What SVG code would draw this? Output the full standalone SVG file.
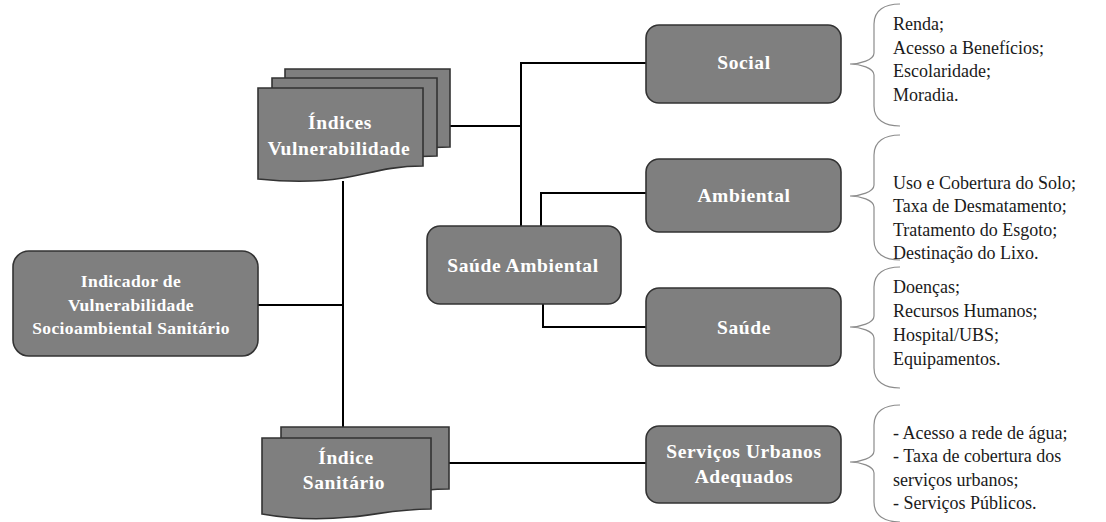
<svg xmlns="http://www.w3.org/2000/svg" width="1106" height="522" viewBox="0 0 1106 522">
<style>
.box{fill:#7f7f7f;stroke:#333333;stroke-width:1.6}
.doc{fill:#7f7f7f;stroke:#333333;stroke-width:1.6}
.nt{font-family:"Liberation Serif","Times New Roman",serif;font-weight:bold;font-size:19.5px;fill:#ffffff;text-anchor:middle;letter-spacing:0.6px}
.nts{font-family:"Liberation Serif","Times New Roman",serif;font-weight:bold;font-size:17.5px;fill:#ffffff;text-anchor:middle;letter-spacing:0.4px}
.lt{font-family:"Liberation Serif","Times New Roman",serif;font-size:18px;fill:#1a1a1a}
.con{fill:none;stroke:#000000;stroke-width:2}
.brace{fill:none;stroke:#8c8c8c;stroke-width:1.2}
</style>
<rect width="1106" height="522" fill="#ffffff"/>
<g id="connectors">
<path class="con" d="M258,305 H343"/>
<path class="con" d="M343,181 V427"/>
<path class="con" d="M450,126 H521"/>
<path class="con" d="M521,226 V63 H646"/>
<path class="con" d="M541,226 V193 H646"/>
<path class="con" d="M543,304 V327 H646"/>
<path class="con" d="M449,463 H646"/>
</g>
<g id="node-indicador">
<rect class="box" x="13" y="251" width="245" height="105" rx="16"/>
<text class="nts" x="131" y="287">Indicador de</text>
<text class="nts" x="131" y="311">Vulnerabilidade</text>
<text class="nts" x="131" y="334">Socioambiental Sanitário</text>
</g>
<g id="node-indices-vulnerabilidade">
<path class="doc" d="M285,69 H450 V147 C415,147 395,155 370,159 C345,163 315,163 285,160 Z"/>
<path class="doc" d="M272,78 H437 V156 C402,156 382,164 357,168 C332,172 302,172 272,169 Z"/>
<path class="doc" d="M258,88 H423 V166 C388,166 368,174 343,178 C318,182 288,182 258,179 Z"/>
<text class="nt" x="340" y="129">Índices</text>
<text class="nt" x="339" y="155">Vulnerabilidade</text>
</g>
<g id="node-indice-sanitario">
<path class="doc" d="M281,427 H449 V489 C414,489 394,495 369,497 C339,500 309,499 281,495 Z"/>
<path class="doc" d="M262,438 H431 V509 C396,509 376,515 350,517 C320,520 290,519 262,514 Z"/>
<text class="nt" x="346" y="464">Índice</text>
<text class="nt" x="344" y="489">Sanitário</text>
</g>
<g id="node-saude-ambiental">
<rect class="box" x="427" y="226" width="194" height="78" rx="13"/>
<text class="nt" x="523" y="272">Saúde Ambiental</text>
</g>
<g id="node-social">
<rect class="box" x="646" y="25" width="195" height="78" rx="13"/>
<text class="nt" x="744" y="69">Social</text>
</g>
<g id="node-ambiental">
<rect class="box" x="646" y="159" width="195" height="73" rx="13"/>
<text class="nt" x="744" y="202">Ambiental</text>
</g>
<g id="node-saude">
<rect class="box" x="646" y="288" width="195" height="78" rx="13"/>
<text class="nt" x="744" y="334">Saúde</text>
</g>
<g id="node-servicos">
<rect class="box" x="646" y="426" width="195" height="77" rx="13"/>
<text class="nt" x="744" y="458">Serviços Urbanos</text>
<text class="nt" x="744" y="483">Adequados</text>
</g>
<g id="braces">
<path class="brace" d="M900,4 C885,4 874,10 874,24 V53 C874,60 860,64 850,64 C860,64 874,68 874,75 V106 C874,120 885,126 900,126"/>
<path class="brace" d="M900,135 C885,135 874,141 874,155 V185 C874,192 860,196 850,196 C860,196 874,200 874,207 V240 C874,254 885,260 900,260"/>
<path class="brace" d="M900,267 C885,267 874,273 874,287 V316 C874,323 860,327 850,327 C860,327 874,331 874,338 V368 C874,382 885,388 900,388"/>
<path class="brace" d="M900,405 C885,405 874,411 874,425 V451 C874,458 860,462 850,462 C860,462 874,466 874,473 V502 C874,516 885,522 900,522"/>
</g>
<g id="list-social">
<text class="lt" x="893" y="30">Renda;</text>
<text class="lt" x="893" y="53.5">Acesso a Benefícios;</text>
<text class="lt" x="893" y="77">Escolaridade;</text>
<text class="lt" x="893" y="100.5">Moradia.</text>
</g>
<g id="list-ambiental">
<text class="lt" x="893" y="188.5">Uso e Cobertura do Solo;</text>
<text class="lt" x="893" y="212">Taxa de Desmatamento;</text>
<text class="lt" x="893" y="235.5">Tratamento do Esgoto;</text>
<text class="lt" x="893" y="259">Destinação do Lixo.</text>
</g>
<g id="list-saude">
<text class="lt" x="893" y="293">Doenças;</text>
<text class="lt" x="893" y="317">Recursos Humanos;</text>
<text class="lt" x="893" y="341">Hospital/UBS;</text>
<text class="lt" x="893" y="365">Equipamentos.</text>
</g>
<g id="list-servicos">
<text class="lt" x="893" y="438.5">- Acesso a rede de água;</text>
<text class="lt" x="893" y="462">- Taxa de cobertura dos</text>
<text class="lt" x="893" y="485.5">serviços urbanos;</text>
<text class="lt" x="893" y="509">- Serviços Públicos.</text>
</g>
</svg>
